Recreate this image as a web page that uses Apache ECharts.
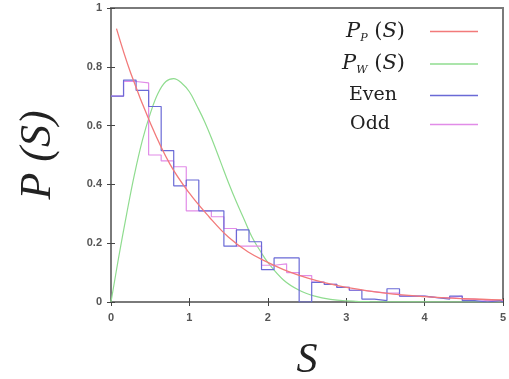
<!DOCTYPE html>
<html>
<head>
<meta charset="utf-8">
<script src="https://cdn.jsdelivr.net/npm/echarts@6/dist/echarts.min.js"></script>
<style>
html,body{margin:0;padding:0;background:#fff;}
#chart{width:509px;height:379px;}
</style>
</head>
<body>
<div id="chart"></div>
<script>
// Poisson curve P_P(S)
const poissonS = [0.07, 0.25, 0.5, 0.75, 1.0, 1.25, 1.5, 1.75, 2.0, 2.25, 2.5, 2.75, 3.0, 3.5, 4.0, 4.5, 5.0];
const poissonP = [0.93, 0.78, 0.61, 0.47, 0.37, 0.29, 0.22, 0.17, 0.135, 0.105, 0.082, 0.064, 0.05, 0.03, 0.018, 0.011, 0.007];
// Wigner curve P_W(S)
const wignerS = [0, 0.1, 0.2, 0.3, 0.4, 0.5, 0.6, 0.7, 0.8, 0.9, 1.0, 1.1, 1.2, 1.3, 1.4, 1.5, 1.6, 1.7, 1.8, 1.9, 2.0, 2.2, 2.4, 2.6, 2.8, 3.0, 3.3, 5.0];
const wignerP = [0, 0.155, 0.30, 0.435, 0.55, 0.64, 0.71, 0.75, 0.76, 0.745, 0.715, 0.665, 0.61, 0.545, 0.475, 0.405, 0.34, 0.28, 0.22, 0.175, 0.135, 0.075, 0.04, 0.02, 0.009, 0.004, 0.001, 0];
// Histogram bin edges (left edges) and the right end
const binEdges = [0, 0.16, 0.32, 0.48, 0.64, 0.80, 0.96, 1.12, 1.28, 1.44, 1.60, 1.76, 1.92, 2.08, 2.24, 2.40,
  2.56, 2.72, 2.88, 3.04, 3.20, 3.36, 3.52, 3.68, 3.84, 4.00, 4.16, 4.32, 4.48, 4.64, 4.80, 4.96];
const binEnd = 5.0;
const evenP = [0.70, 0.755, 0.72, 0.665, 0.515, 0.395, 0.415, 0.31, 0.31, 0.19, 0.245, 0.205, 0.11, 0.15, 0.15, 0.0,
  0.067, 0.06, 0.05, 0.04, 0.01, 0.005, 0.045, 0.02, 0.02, 0.015, 0.01, 0.02, 0.005, 0.0, 0.005, 0.0];
const oddP = [0.70, 0.75, 0.745, 0.50, 0.48, 0.46, 0.31, 0.31, 0.29, 0.25, 0.19, 0.19, 0.125, 0.13, 0.10, 0.09,
  0.068, 0.06, 0.05, 0.04, 0.035, 0.03, 0.03, 0.02, 0.02, 0.015, 0.015, 0.02, 0.01, 0.005, 0.005, 0.005];
const xTicks = [0, 1, 2, 3, 4, 5];
const yTicks = [0, 0.2, 0.4, 0.6, 0.8, 1];

function pairs(xs, ys) { return xs.map((x, i) => [x, ys[i]]); }
function stepData(edges, vals, end) {
  const d = edges.map((x, i) => [x, vals[i]]);
  d.push([end, vals[vals.length - 1]]);
  return d;
}

const colors = { pp: '#f27a7a', pw: '#8fdc8f', even: '#6a6ad6', odd: '#e18ce8' };
const serif = 'Liberation Serif';
const lserif = 'DejaVu Serif';

const legendRich = {
  i: { fontFamily: lserif, fontStyle: 'italic', fontSize: 21, color: '#222', lineHeight: 24 },
  sub: { fontFamily: lserif, fontStyle: 'italic', fontSize: 11, color: '#222', lineHeight: 12, verticalAlign: 'bottom' },
  n: { fontFamily: lserif, fontSize: 21, color: '#222', lineHeight: 24 },
  np: { fontFamily: lserif, fontSize: 21, color: '#222', lineHeight: 24, padding: [0, 20, 0, 0] },
  ev: { fontFamily: lserif, fontSize: 19, color: '#222', lineHeight: 24, padding: [0, 28, 0, 0] },
  od: { fontFamily: lserif, fontSize: 19, color: '#222', lineHeight: 24, padding: [0, 35, 0, 0] }
};
const legendText = {
  'P_P': '{i|P}{sub|P}{n| (}{i|S}{np|)}',
  'P_W': '{i|P}{sub|W}{n| (}{i|S}{np|)}',
  'Even': '{ev|Even}',
  'Odd': '{od|Odd}'
};

const chart = echarts.init(document.getElementById('chart'), null, { renderer: 'canvas' });
const axisColor = '#7a7a7a';
const labelStyle = { fontFamily: 'Liberation Sans', fontSize: 11, color: '#555', fontWeight: 'bold' };
const tickStyle = { show: true, inside: true, length: 4, lineStyle: { color: '#444', width: 1 } };

chart.setOption({
  animation: false,
  backgroundColor: '#fff',
  grid: { left: 111, right: 6, top: 8, bottom: 77, containLabel: false, outerBoundsMode: 'none',
    show: true, borderColor: axisColor, borderWidth: 2, backgroundColor: 'transparent' },
  legend: {
    right: 26, top: 16, orient: 'vertical', align: 'right',
    icon: 'rect', itemWidth: 48, itemHeight: 1.5, itemGap: 10,
    formatter: name => legendText[name],
    textStyle: { rich: legendRich },
    data: ['P_P', 'P_W', 'Even', 'Odd']
  },
  xAxis: [{
    type: 'value', min: 0, max: 5, interval: 1,
    name: 'S', nameLocation: 'middle', nameGap: 38,
    nameTextStyle: { fontFamily: serif, fontStyle: 'italic', fontSize: 42, color: '#222' },
    axisLine: { show: true, lineStyle: { color: axisColor, width: 2 } },
    axisTick: tickStyle,
    axisLabel: Object.assign({ margin: 10, formatter: v => xTicks.includes(v) ? String(v) : '' }, labelStyle),
    splitLine: { show: false }
  }, {
    type: 'value', min: 0, max: 5, interval: 1, position: 'top',
    axisLine: { show: true, lineStyle: { color: axisColor, width: 2 } },
    axisTick: tickStyle,
    axisLabel: { show: false }, splitLine: { show: false }
  }],
  yAxis: [{
    type: 'value', min: 0, max: 1, interval: 0.2,
    name: 'P (S)', nameLocation: 'middle', nameGap: 51, nameRotate: 90,
    nameTextStyle: { fontFamily: serif, fontStyle: 'italic', fontSize: 44, color: '#222' },
    axisLine: { show: true, lineStyle: { color: axisColor, width: 2 } },
    axisTick: tickStyle,
    axisLabel: Object.assign({ margin: 9, formatter: v => { const r = parseFloat(v.toFixed(1)); return yTicks.includes(r) ? String(r) : ''; } }, labelStyle),
    splitLine: { show: false }
  }, {
    type: 'value', min: 0, max: 1, interval: 0.2, position: 'right',
    axisLine: { show: true, lineStyle: { color: axisColor, width: 2 } },
    axisTick: tickStyle,
    axisLabel: { show: false }, splitLine: { show: false }
  }],
  series: [
    { name: 'P_P', type: 'line', data: pairs(poissonS, poissonP), smooth: 0.4, symbol: 'none',
      lineStyle: { color: colors.pp, width: 1.3 }, itemStyle: { color: colors.pp }, z: 4 },
    { name: 'P_W', type: 'line', data: pairs(wignerS, wignerP), smooth: 0.4, symbol: 'none',
      lineStyle: { color: colors.pw, width: 1.2 }, itemStyle: { color: colors.pw }, z: 1 },
    { name: 'Even', type: 'line', data: stepData(binEdges, evenP, binEnd), step: 'end', symbol: 'none',
      lineStyle: { color: colors.even, width: 1.2 }, itemStyle: { color: colors.even }, z: 3 },
    { name: 'Odd', type: 'line', data: stepData(binEdges, oddP, binEnd), step: 'end', symbol: 'none',
      lineStyle: { color: colors.odd, width: 1.2 }, itemStyle: { color: colors.odd }, z: 2 }
  ]
});
</script>
</body>
</html>
